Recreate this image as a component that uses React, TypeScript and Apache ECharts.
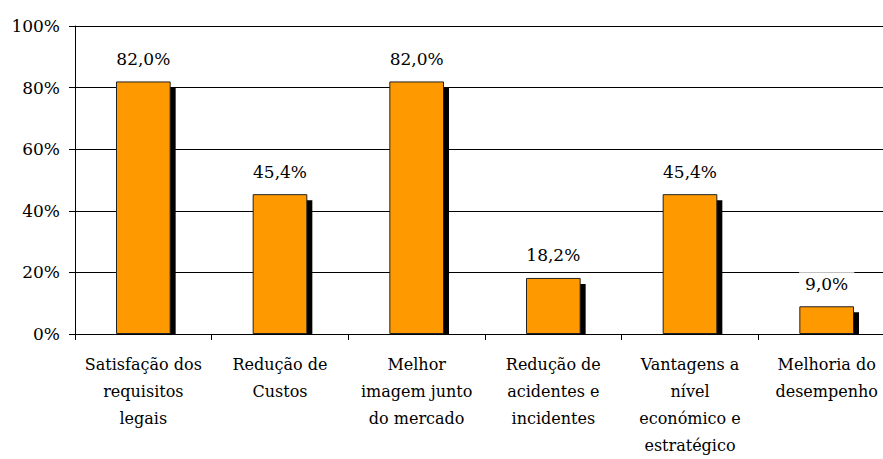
import React, { useEffect, useRef } from "react";
import * as echarts from "echarts";

const categories = [
  "Satisfação dos\nrequisitos\nlegais",
  "Redução de\nCustos",
  "Melhor\nimagem junto\ndo mercado",
  "Redução de\nacidentes e\nincidentes",
  "Vantagens a\nnível\neconómico e\nestratégico",
  "Melhoria do\ndesempenho",
];
const values = [82.0, 45.4, 82.0, 18.2, 45.4, 9.0];
const yTicks = { min: 0, max: 100, interval: 20 };

const FONT = "DejaVu Serif";

export default function App() {
  const ref = useRef<HTMLDivElement>(null);
  useEffect(() => {
    document.body.style.margin = "0";
    document.body.style.overflow = "hidden";
    document.documentElement.style.overflow = "hidden";
    if (!ref.current) return;
    const chart = echarts.init(ref.current, undefined, { renderer: "svg" });
    chart.setOption({
      animation: false,
      backgroundColor: "#fff",
      textStyle: { fontFamily: FONT },
      grid: {
        left: 75,
        top: 26,
        width: 820,
        height: 308,
        containLabel: false,
        outerBoundsMode: "none",
      },
      xAxis: {
        type: "category",
        data: categories,
        boundaryGap: true,
        axisLine: { show: true, lineStyle: { color: "#000", width: 1 } },
        axisTick: { show: true, length: 6, lineStyle: { color: "#000" } },
        axisLabel: {
          interval: 0,
          margin: 17,
          fontFamily: FONT,
          fontSize: 16,
          lineHeight: 27,
          color: "#000",
          align: "center",
        },
        splitLine: { show: false },
      },
      yAxis: {
        type: "value",
        min: yTicks.min,
        max: yTicks.max,
        interval: yTicks.interval,
        axisLine: { show: true, lineStyle: { color: "#000", width: 1 } },
        axisTick: { show: true, length: 6, lineStyle: { color: "#000" } },
        axisLabel: {
          formatter: "{value}%",
          margin: 15,
          fontFamily: FONT,
          fontSize: 17,
          color: "#000",
        },
        splitLine: { show: true, lineStyle: { color: "#000", width: 1 } },
      },
      series: [
        {
          type: "custom",
          z: 1,
          data: values.map((v, i) => [i, v]),
          renderItem: (params: any, api: any) => {
            const idx = api.value(0);
            const v = api.value(1);
            const top = api.coord([idx, v]);
            const base = api.coord([idx, 0]);
            const w = api.size([1, 0])[0] * 0.4;
            return {
              type: "rect",
              shape: {
                x: top[0] - w / 2 + 5,
                y: top[1] + 6,
                width: w,
                height: Math.max(0, base[1] - top[1] - 6),
              },
              style: { fill: "#000" },
            };
          },
        },
        {
          type: "bar",
          z: 3,
          data: values,
          barWidth: "40%",
          itemStyle: { color: "#FF9900", borderColor: "#222", borderWidth: 1 },
          label: {
            show: true,
            position: "top",
            distance: 11,
            formatter: (p: any) => p.value.toFixed(1).replace(".", ",") + "%",
            fontFamily: FONT,
            fontSize: 17,
            color: "#000",
            backgroundColor: "#fff",
            padding: [3, 6],
          },
        },
      ],
    });
    return () => chart.dispose();
  }, []);
  return (
    <div
      ref={ref}
      style={{ position: "absolute", left: 0, top: 0, width: 883, height: 459, overflow: "hidden" }}
    />
  );
}
